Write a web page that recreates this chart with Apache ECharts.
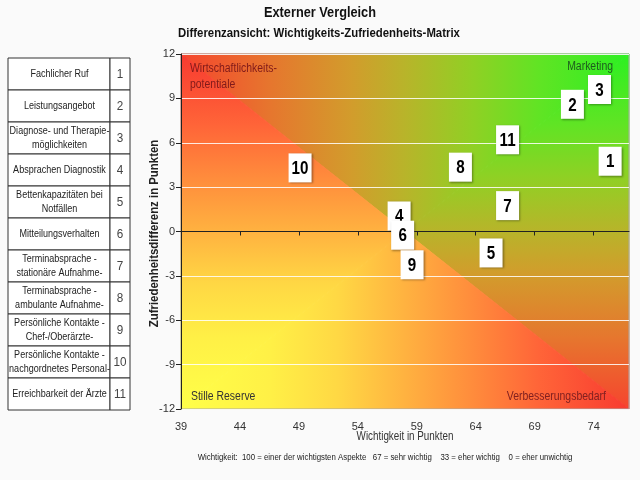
<!DOCTYPE html>
<html>
<head>
<meta charset="utf-8">
<title>Externer Vergleich</title>
<script src="https://cdn.jsdelivr.net/npm/echarts@6/dist/echarts.min.js"></script>
<style>
  html, body { margin: 0; background: #fafafa; }
  #chart { width: 640px; height: 480px; }
</style>
</head>
<body>
<div id="chart"></div>
<script>
const aspectNames = [
  "Fachlicher Ruf",
  "Leistungsangebot",
  "Diagnose- und Therapie-\nmöglichkeiten",
  "Absprachen Diagnostik",
  "Bettenkapazitäten bei\nNotfällen",
  "Mitteilungsverhalten",
  "Terminabsprache -\nstationäre Aufnahme-",
  "Terminabsprache -\nambulante Aufnahme-",
  "Persönliche Kontakte -\nChef-/Oberärzte-",
  "Persönliche Kontakte -\nnachgordnetes Personal-",
  "Erreichbarkeit der Ärzte",
];
const aspectIds = ["1", "2", "3", "4", "5", "6", "7", "8", "9", "10", "11"];

// Wichtigkeit (x) and Zufriedenheitsdifferenz (y)
const importance = [75.4, 72.2, 74.5, 57.5, 65.3, 57.8, 66.7, 62.7, 58.6, 49.1, 66.7];
const satisfactionDiff = [4.75, 8.6, 9.6, 1.05, -1.45, -0.25, 1.75, 4.35, -2.25, 4.3, 6.2];

const xMin = 39, xMax = 77, xStep = 5;
const yMin = -12, yMax = 12, yStep = 3;

const quadrantLabels = ["Wirtschaftlichkeits-\npotentiale", "Marketing", "Stille Reserve", "Verbesserungsbedarf"];
const footnote = "Wichtigkeit:  100 = einer der wichtigsten Aspekte   67 = sehr wichtig    33 = eher wichtig    0 = eher unwichtig";

const sans = '"Liberation Sans", Arial, sans-serif';

const plotLeft = 181, plotTop = 54, plotWidth = 448, plotHeight = 355;

// gradient stops by distance from the bright corner (0) to the far corners (1)
const greenStops = [
  { offset: 0, color: "#2cf022" },
  { offset: 0.2, color: "#60e424" },
  { offset: 0.35, color: "#90d024" },
  { offset: 0.5, color: "#b8b42a" },
  { offset: 0.62, color: "#d29c2c" },
  { offset: 0.8, color: "#e6762e" },
  { offset: 1, color: "#f6442e" },
];
const yellowStops = [
  { offset: 0, color: "#ffff48" },
  { offset: 0.2, color: "#fff046" },
  { offset: 0.35, color: "#ffd844" },
  { offset: 0.5, color: "#ffb240" },
  { offset: 0.65, color: "#ff8c3c" },
  { offset: 0.8, color: "#ff6438" },
  { offset: 1, color: "#f83a30" },
];

function grad(x, y, x2, y2, stops) {
  return new echarts.graphic.LinearGradient(x, y, x2, y2, stops);
}

function backgroundShapes() {
  const L = plotLeft, T = plotTop, R = plotLeft + plotWidth, B = plotTop + plotHeight;
  const M = [L + plotWidth / 2, T + plotHeight / 2];
  const parts = [
    { pts: [[L, T], [R, T], M], fill: grad(1, 0, 0, 0, greenStops) },
    { pts: [[R, T], [R, B], M], fill: grad(0, 0, 0, 1, greenStops) },
    { pts: [[L, T], [L, B], M], fill: grad(0, 1, 0, 0, yellowStops) },
    { pts: [[L, B], [R, B], M], fill: grad(0, 0, 1, 0, yellowStops) },
  ];
  return parts.map((p) => ({
    type: "polygon",
    z: -100,
    silent: true,
    shape: { points: p.pts },
    style: { fill: p.fill, stroke: p.fill, lineWidth: 1 },
  }));
}

// condensed text: the source uses a narrow face, so squeeze Liberation Sans
function label(x, y, text, font, opts, scale) {
  return {
    type: "text",
    x: x,
    y: y,
    scaleX: scale || 0.82,
    silent: true,
    style: Object.assign({ text: text, font: font + " " + sans, fill: "#222" }, opts),
  };
}

function tableShapes() {
  const left = 8, top = 58, rowH = 32, nameW = 102, idW = 20;
  const items = [];
  aspectNames.forEach((name, i) => {
    const y = top + i * rowH;
    items.push({
      type: "rect",
      shape: { x: left, y: y, width: nameW, height: rowH },
      style: { fill: "#fff", stroke: "#333", lineWidth: 1 },
    });
    items.push({
      type: "rect",
      shape: { x: left + nameW, y: y, width: idW, height: rowH },
      style: { fill: "#fff", stroke: "#333", lineWidth: 1 },
    });
    items.push(label(left + nameW / 2 + 0.5, y + rowH / 2, name, "11px", {
      align: "center", verticalAlign: "middle", lineHeight: 14, fill: "#222",
    }));
    items.push(label(left + nameW + idW / 2, y + rowH / 2, aspectIds[i], "13px", {
      align: "center", verticalAlign: "middle", fill: "#444",
    }, 0.9));
  });
  return items;
}

function textShapes() {
  const R = plotLeft + plotWidth;
  const yName = label(155, plotTop + plotHeight / 2 + 2, "Zufriedenheitsdifferenz in Punkten", "bold 12px", {
    align: "center", verticalAlign: "middle", fill: "#222",
  }, 0.95);
  yName.rotation = Math.PI / 2;
  return [
    label(320, 13, "Externer Vergleich", "bold 15px", { align: "center", verticalAlign: "middle", fill: "#111" }, 0.85),
    label(319, 33, "Differenzansicht: Wichtigkeits-Zufriedenheits-Matrix", "bold 13px", {
      align: "center", verticalAlign: "middle", fill: "#111",
    }, 0.875),
    yName,
    label(190, 61, quadrantLabels[0], "12px", { fill: "#801a1a", lineHeight: 16 }, 0.87),
    label(R - 16, 61, quadrantLabels[1], "12px", { fill: "#1e5a1e", align: "right" }, 0.87),
    label(191, 397, quadrantLabels[2], "12px", { fill: "#333", verticalAlign: "middle" }, 0.87),
    label(R - 23, 397, quadrantLabels[3], "12px", { fill: "#802020", align: "right", verticalAlign: "middle" }, 0.87),
    label(plotLeft + plotWidth / 2, 437, "Wichtigkeit in Punkten", "12px", {
      fill: "#333", align: "center", verticalAlign: "middle",
    }),
    label(385, 458, footnote, "9px", { align: "center", verticalAlign: "middle", fill: "#222" }, 0.87),
  ];
}

function renderBox(params, api) {
  const pt = api.coord([api.value(0), api.value(1)]);
  const w = 23, h = 29;
  return {
    type: "group",
    children: [
      {
        type: "rect",
        shape: { x: pt[0] - w / 2, y: pt[1] - h / 2, width: w, height: h },
        style: {
          fill: "#fff",
          shadowColor: "rgba(0,0,0,0.35)",
          shadowBlur: 2,
          shadowOffsetX: 1,
          shadowOffsetY: 1,
        },
      },
      {
        type: "text",
        x: pt[0],
        y: pt[1] + 1,
        scaleX: 0.8,
        style: {
          text: aspectIds[params.dataIndex],
          font: "bold 19px " + sans,
          fill: "#000",
          align: "center",
          verticalAlign: "middle",
        },
      },
    ],
  };
}

const chart = echarts.init(document.getElementById("chart"), null, { renderer: "canvas" });

chart.setOption({
  animation: false,
  backgroundColor: "#fafafa",
  grid: {
    left: plotLeft,
    top: plotTop,
    width: plotWidth,
    height: plotHeight,
    show: true,
    borderColor: "#aaa",
    borderWidth: 1,
    backgroundColor: "transparent",
  },
  xAxis: {
    type: "value",
    min: xMin,
    max: xMax,
    interval: xStep,
    z: 10,
    axisLine: { onZero: true, lineStyle: { color: "#222", width: 1 } },
    axisTick: { show: true, length: 4, lineStyle: { color: "#222" } },
    axisLabel: { color: "#333", fontFamily: sans, fontSize: 11, margin: 12, showMaxLabel: false },
    splitLine: { show: false },
  },
  yAxis: {
    type: "value",
    min: yMin,
    max: yMax,
    interval: yStep,
    z: 10,
    axisLine: { show: true, lineStyle: { color: "#222", width: 1 } },
    axisTick: { show: true, length: 5, lineStyle: { color: "#222" } },
    axisLabel: { color: "#333", fontFamily: sans, fontSize: 11, margin: 6 },
    splitLine: { show: true, lineStyle: { color: "rgba(255,255,255,0.85)", width: 1 } },
  },
  graphic: [...backgroundShapes(), ...tableShapes(), ...textShapes()],
  series: [
    {
      type: "custom",
      z: 20,
      renderItem: renderBox,
      encode: { x: 0, y: 1 },
      data: importance.map((x, i) => [x, satisfactionDiff[i]]),
    },
  ],
});
</script>
</body>
</html>
